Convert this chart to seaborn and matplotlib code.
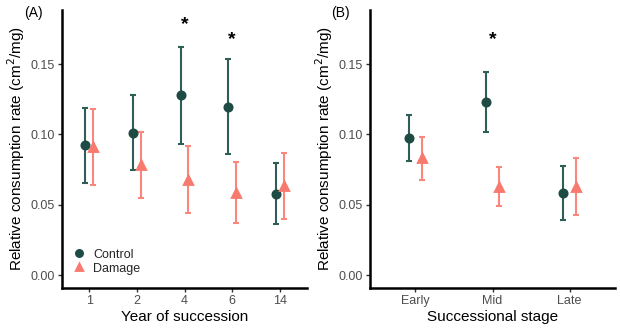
import numpy as np
import pandas as pd
import matplotlib
matplotlib.use("Agg")
import matplotlib.pyplot as plt
import seaborn as sns

# Panel A data
years = ["1", "2", "4", "6", "14"]
ctrl_a = [0.0922, 0.1012, 0.1280, 0.1197, 0.0576]
ctrl_a_lo = [0.0656, 0.0744, 0.0934, 0.0863, 0.0360]
ctrl_a_hi = [0.1187, 0.1278, 0.1623, 0.1534, 0.0796]
dmg_a = [0.0910, 0.0784, 0.0675, 0.0585, 0.0633]
dmg_a_lo = [0.0640, 0.0545, 0.0441, 0.0372, 0.0398]
dmg_a_hi = [0.1178, 0.1015, 0.0917, 0.0801, 0.0870]
star_a = {"4": 0.178, "6": 0.1676}

# Panel B data
stages = ["Early", "Mid", "Late"]
ctrl_b = [0.0976, 0.1228, 0.0581]
ctrl_b_lo = [0.0813, 0.1017, 0.0393]
ctrl_b_hi = [0.1138, 0.1444, 0.0773]
dmg_b = [0.0832, 0.0628, 0.0628]
dmg_b_lo = [0.0675, 0.0489, 0.0427]
dmg_b_hi = [0.0981, 0.0766, 0.0834]
star_b = {"Mid": 0.1678}

groups = ["Control", "Damage"]
colors = {"Control": "#1E4B43", "Damage": "#F8796E"}
ecolors = {"Control": "#2E5E55", "Damage": "#F9877D"}

sns.set_theme(style="white")
plt.rcParams["font.family"] = ["Liberation Sans", "DejaVu Sans"]

fig = plt.figure(figsize=(6.2, 3.28), dpi=100)
axA = fig.add_axes([62/620, 1-288/328, (307-62)/620, (288-10)/328])
axB = fig.add_axes([370/620, 1-288/328, (615-370)/620, (288-10)/328])

dodge = 0.08

def panel(ax, cats, c, clo, chi, d, dlo, dhi, stars, xlabel, tag, tagx, legend, pad):
    df = pd.DataFrame({
        "cat": cats * 2,
        "group": ["Control"] * len(cats) + ["Damage"] * len(cats),
        "val": list(c) + list(d),
        "lo": list(clo) + list(dlo),
        "hi": list(chi) + list(dhi),
    })
    xs = np.arange(len(cats))
    for g, off in zip(groups, [-dodge, dodge]):
        sub = df[df.group == g]
        ax.errorbar(xs + off, sub.val, yerr=[sub.val - sub.lo, sub.hi - sub.val],
                    fmt="none", ecolor=ecolors[g], elinewidth=1.5, capsize=2.4,
                    capthick=1.5, zorder=2)
    sns.pointplot(data=df, x="cat", y="val", hue="group", order=cats,
                  hue_order=groups, palette=colors, markers=["o", "^"],
                  linestyle="none", dodge=2 * dodge, errorbar=None, ax=ax,
                  markersize=5.2, legend=legend, zorder=3)
    for k, v in stars.items():
        ax.text(cats.index(k), v, "*", ha="center", va="center", fontsize=14,
                fontweight="bold", color="black")
    ax.set_xlim(-pad, len(cats) - 1 + pad)
    ax.set_ylim(-0.0092, 0.1885)
    ax.set_yticks([0.0, 0.05, 0.10, 0.15])
    ax.set_yticklabels(["0.00", "0.05", "0.10", "0.15"])
    ax.set_xlabel(xlabel, fontsize=11, color="black", labelpad=2)
    ax.set_ylabel("Relative consumption rate (cm$^2$/mg)", fontsize=11,
                  color="black", labelpad=3)
    for s in ["top", "right"]:
        ax.spines[s].set_visible(False)
    for s in ["left", "bottom"]:
        ax.spines[s].set_color("black")
        ax.spines[s].set_linewidth(1.8)
    ax.tick_params(axis="both", which="both", length=3, width=1, color="#333333",
                   labelsize=9, labelcolor="#4D4D4D", pad=2, left=True, bottom=True)
    fig.text(tagx / 620, 1 - 13 / 328, tag, fontsize=10, ha="left",
             va="center", color="black")
    if legend:
        ax.legend(loc="lower left", bbox_to_anchor=(0.025, 0.03), frameon=False,
                  fontsize=9, handletextpad=0.6, borderaxespad=0, labelspacing=0.15,
                  handlelength=1.0, markerscale=0.85, title=None)

panel(axA, years, ctrl_a, ctrl_a_lo, ctrl_a_hi, dmg_a, dmg_a_lo, dmg_a_hi,
      star_a, "Year of succession", "(A)", 24, True, 0.57)
panel(axB, stages, ctrl_b, ctrl_b_lo, ctrl_b_hi, dmg_b, dmg_b_lo, dmg_b_hi,
      star_b, "Successional stage", "(B)", 331, False, 0.59)

fig.savefig("out.png", dpi=100)
